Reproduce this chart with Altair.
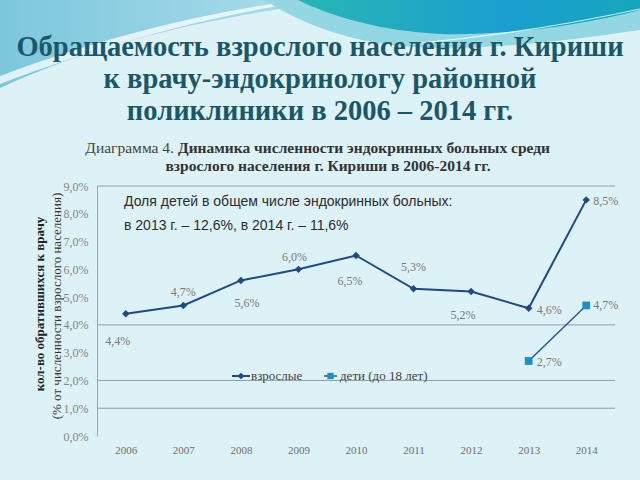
import altair as alt
import pandas as pd

# ---------------- data ----------------
years = ["2006", "2007", "2008", "2009", "2010", "2011", "2012", "2013", "2014"]
adult_vals = [4.4, 4.7, 5.6, 6.0, 6.5, 5.3, 5.2, 4.6, 8.5]
child_years = ["2013", "2014"]
child_vals = [2.7, 4.7]
y_ticks = [0, 1, 2, 3, 4, 5, 6, 7, 8, 9]
grid_vals = [1, 2, 4, 9]
series_names = ["взрослые", "дети (до 18 лет)"]

title_lines = ["Обращаемость взрослого населения г. Кириши",
               "к врачу-эндокринологу районной",
               "поликлиники в 2006 – 2014 гг."]
sub_normal = "Диаграмма 4."
sub_bold_1 = "Динамика численности эндокринных больных среди"
sub_bold_2 = "взрослого населения г. Кириши в 2006-2014 гг."
note_lines = ["Доля детей в общем числе эндокринных больных:",
              "в 2013 г. – 12,6%, в 2014 г. – 11,6%"]
ytitle_lines = ["кол-во обратившихся к врачу", "(% от численности взрослого населения)"]


def fmt(v):
    return f"{v:.1f}".replace(".", ",") + "%"


adult_df = pd.DataFrame({"year": years, "value": adult_vals})
adult_df["label"] = adult_df["value"].map(fmt)
child_df = pd.DataFrame({"year": child_years, "value": child_vals})
child_df["label"] = child_df["value"].map(fmt)
grid_df = pd.DataFrame({"value": grid_vals})
one = pd.DataFrame({"a": [0]})

# ---------------- styling ----------------
W, H = 518, 250
PAD = {"left": 97, "top": 186, "right": 25, "bottom": 44}
BG = "#DDF2F7"
ADULT = "#1F4A85"
CHILD_LINE = "#245C84"
CHILD_PT = "#1C8FC6"
SERIF = "Liberation Serif"
SANS = "Liberation Sans"

x_enc = alt.X("year:O",
              scale=alt.Scale(type="point", padding=0.5, domain=years),
              axis=alt.Axis(title=None, domain=False, ticks=False, labelAngle=0,
                            labelPadding=8, labelFont=SERIF, labelFontSize=11,
                            labelColor="#6E6E6E", grid=False))
y_enc = alt.Y("value:Q",
              scale=alt.Scale(domain=[0, 9], nice=False, zero=True),
              axis=alt.Axis(title=None, values=y_ticks, ticks=False, grid=False,
                            domain=True, domainColor="#9AA6AA", domainWidth=1,
                            labelPadding=9, labelFont=SERIF, labelFontSize=12,
                            labelColor="#858585",
                            labelExpr="replace(format(datum.value, '.1f'), '.', ',') + '%'"))

# decorative wave shapes (canvas px -> unit square of a 700px symbol centred at 320,240)
def path(cmds):
    out = []
    for c, pts in cmds:
        coords = []
        for i in range(0, len(pts), 2):
            u = (pts[i] - 320) / 350
            v = (pts[i + 1] - 240) / 350
            coords.append(f"{u:.4f},{v:.4f}")
        out.append(c + " ".join(coords))
    return " ".join(out) + " Z"

def path_open(cmds):
    return path(cmds)[:-2]

shapeA = path([("M", [0, 0]), ("L", [345, 0]), ("C", [250, 12, 120, 32, 0, 88])])
shapeB = path([("M", [0, 76]), ("C", [100, 38, 200, 13, 300, 0]), ("L", [312, 0]),
               ("C", [205, 17, 105, 44, 0, 84])])
shapeC = path([("M", [265, 0]), ("L", [640, 0]), ("L", [640, 30]),
               ("C", [560, 42, 470, 52, 400, 46]), ("C", [340, 40, 295, 20, 265, 0])])
shapeD = path([("M", [298, 0]), ("L", [640, 0]), ("L", [640, 10]),
               ("C", [580, 26, 500, 36, 440, 34]), ("C", [380, 31, 330, 16, 298, 0])])
lineE = path_open([("M", [410, 44]), ("C", [500, 36, 580, 22, 640, 9])])

CX, CY, SZ = 320 - PAD["left"], 240 - PAD["top"], 700 * 700

def deco(shape, fill=None, gradient=None, opacity=1.0, stroke=None, sw=0):
    kw = dict(shape=shape, size=SZ, opacity=opacity)
    if gradient is not None:
        kw["fill"] = gradient
        kw["filled"] = True
        kw["strokeWidth"] = 0
    elif fill is not None:
        kw["fill"] = fill
        kw["filled"] = True
        kw["strokeWidth"] = 0
    else:
        kw["filled"] = False
        kw["stroke"] = stroke
        kw["strokeWidth"] = sw
    return alt.Chart(one).mark_point(**kw).encode(x=alt.value(CX), y=alt.value(CY))

gradA = alt.Gradient(gradient="linear",
                     stops=[alt.GradientStop(color="#7CC7DD", offset=0),
                            alt.GradientStop(color="#B0DFEC", offset=1)],
                     x1=0, x2=1, y1=0, y2=0)
gradD = alt.Gradient(gradient="linear",
                     stops=[alt.GradientStop(color="#27B7B5", offset=0),
                            alt.GradientStop(color="#1A9FD0", offset=0.6),
                            alt.GradientStop(color="#16A6BC", offset=1)],
                     x1=0, x2=1, y1=0, y2=0)

decorations = [
    deco(shapeA, gradient=gradA),
    deco(shapeB, fill="white", opacity=0.75),
    deco(shapeC, fill="#93D7E3"),
    deco(shapeD, gradient=gradD),
    deco(lineE, stroke="white", sw=1.2, opacity=0.8),
]

# ---------------- titles ----------------
title_layers = []
for i, t in enumerate(title_lines):
    title_layers.append(
        alt.Chart(one).mark_text(text=t, font=SERIF, fontSize=28.5, fontWeight="bold",
                                 color="#1A5768", align="center", baseline="middle")
        .encode(x=alt.value(223), y=alt.value(-139 + 32 * i)))

sub_layers = [
    alt.Chart(one).mark_text(text=sub_normal, font=SERIF, fontSize=15.5, color="#444444",
                             align="right", baseline="middle")
    .encode(x=alt.value(77), y=alt.value(-38)),
    alt.Chart(one).mark_text(text=sub_bold_1, font=SERIF, fontSize=15.5, fontWeight="bold",
                             color="#333333", align="left", baseline="middle")
    .encode(x=alt.value(81), y=alt.value(-38)),
    alt.Chart(one).mark_text(text=sub_bold_2, font=SERIF, fontSize=15.5, fontWeight="bold",
                             color="#333333", align="center", baseline="middle")
    .encode(x=alt.value(231), y=alt.value(-20)),
]

ytitle_layers = [
    alt.Chart(one).mark_text(text=ytitle_lines[0], font=SERIF, fontSize=13, fontWeight="bold",
                             color="#222222", angle=270, align="center", baseline="middle")
    .encode(x=alt.value(-57), y=alt.value(118)),
    alt.Chart(one).mark_text(text=ytitle_lines[1], font=SERIF, fontSize=13,
                             color="#333333", angle=270, align="center", baseline="middle")
    .encode(x=alt.value(-40), y=alt.value(120)),
]

# ---------------- gridlines ----------------
grid = alt.Chart(grid_df).mark_rule(color="#8E9EA3", strokeWidth=1).encode(
    y=y_enc, x=alt.value(0), x2=alt.value(W))

# ---------------- series ----------------
adult_line = alt.Chart(adult_df).mark_line(color=ADULT, strokeWidth=2).encode(x=x_enc, y=y_enc)
adult_pts = alt.Chart(adult_df).mark_point(shape="diamond", filled=True, color=ADULT,
                                           size=55, opacity=1).encode(x=x_enc, y=y_enc)
child_line = alt.Chart(child_df).mark_line(color=CHILD_LINE, strokeWidth=1.5).encode(x=x_enc, y=y_enc)
child_pts = alt.Chart(child_df).mark_point(shape="square", filled=True, color=CHILD_PT,
                                           size=60, opacity=1).encode(x=x_enc, y=y_enc)

# ---------------- value labels ----------------
adult_offsets = {"2006": (-8, 27, "center"), "2007": (0, -13, "center"),
                 "2008": (6, 23, "center"), "2009": (-4, -12, "center"),
                 "2010": (-6, 26, "center"), "2011": (0, -22, "center"),
                 "2012": (-8, 23, "center"), "2013": (8, 2, "left"),
                 "2014": (7, 1, "left")}
child_offsets = {"2013": (8, 1, "left"), "2014": (7, 0, "left")}

label_layers = []
for df, offs in ((adult_df, adult_offsets), (child_df, child_offsets)):
    for yr, (dx, dy, al) in offs.items():
        label_layers.append(
            alt.Chart(df).transform_filter(alt.datum.year == yr)
            .mark_text(font=SERIF, fontSize=12, color="#7A7A7A", dx=dx, dy=dy,
                       align=al, baseline="middle")
            .encode(x=x_enc, y=y_enc, text="label:N"))

# ---------------- note ----------------
note_layers = [
    alt.Chart(one).mark_text(text=t, font=SANS, fontSize=14, color="#2B2B2B",
                             align="left", baseline="middle")
    .encode(x=alt.value(27), y=alt.value(16 + 24 * i))
    for i, t in enumerate(note_lines)
]

# ---------------- legend ----------------
LY = 190
legend_layers = [
    alt.Chart(one).mark_rule(color=ADULT, strokeWidth=2).encode(
        x=alt.value(135), x2=alt.value(153), y=alt.value(LY)),
    alt.Chart(one).mark_point(shape="diamond", filled=True, color=ADULT, size=45, opacity=1)
    .encode(x=alt.value(144), y=alt.value(LY)),
    alt.Chart(one).mark_text(text=series_names[0], font=SERIF, fontSize=13, color="#444444",
                             align="left", baseline="middle")
    .encode(x=alt.value(154), y=alt.value(LY)),
    alt.Chart(one).mark_rule(color=CHILD_LINE, strokeWidth=1.5).encode(
        x=alt.value(227), x2=alt.value(240), y=alt.value(LY)),
    alt.Chart(one).mark_point(shape="square", filled=True, color=CHILD_PT, size=40, opacity=1)
    .encode(x=alt.value(233.5), y=alt.value(LY)),
    alt.Chart(one).mark_text(text=series_names[1], font=SERIF, fontSize=13, color="#444444",
                             align="left", baseline="middle")
    .encode(x=alt.value(243), y=alt.value(LY)),
]

chart = alt.layer(
    *decorations, *title_layers, *sub_layers, *ytitle_layers, grid,
    adult_line, adult_pts, child_line, child_pts, *label_layers,
    *note_layers, *legend_layers
).properties(
    width=W, height=H, padding=PAD, autosize=alt.AutoSizeParams(type="none"),
    background=BG
).configure_view(stroke=None)

chart.save("out.html", embed_options={"renderer": "svg", "actions": False})
